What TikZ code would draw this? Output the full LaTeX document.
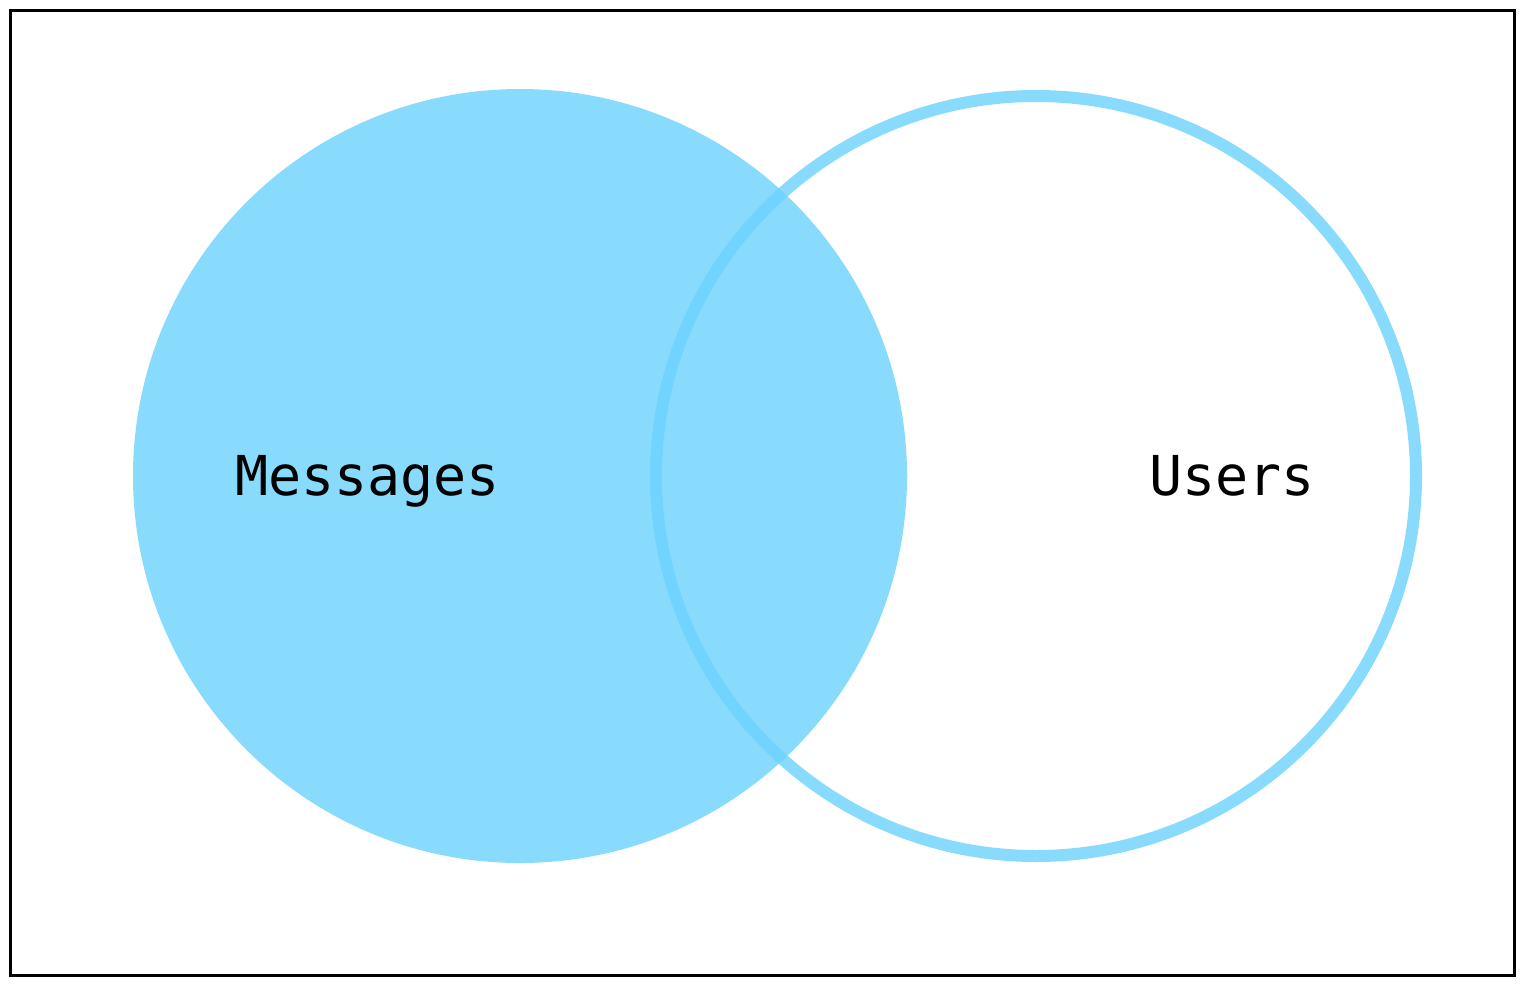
\documentclass[tikz,border=0pt]{standalone}
\usepackage{fontspec}
\setmonofont{DejaVu Sans Mono}
\definecolor{vennfill}{RGB}{137,219,254}
\definecolor{vennline}{RGB}{108,211,254}
\tikzset{
  setlabel/.style={font=\ttfamily\fontsize{55}{60}\selectfont, text=black, inner sep=0pt},
  frame/.style={draw=black, line width=3pt},
}
\begin{document}
\begin{tikzpicture}[x=1pt,y=-1pt]
\useasboundingbox (0,0) rectangle (1520,983);
\fill[white] (0,0) rectangle (1520,983);
\node[frame, minimum width=1504pt, minimum height=965pt, inner sep=0pt] (frame) at (762,492.5) {};
\fill[vennfill] (520,476) circle[radius=387];
\draw[vennline, draw opacity=0.8, line width=12pt] (1036,476) circle[radius=380];
\node[setlabel, anchor=base] (messages) at (367.5,495) {Messages};
\node[setlabel, anchor=base] (users) at (1232,495) {Users};
\end{tikzpicture}
\end{document}
